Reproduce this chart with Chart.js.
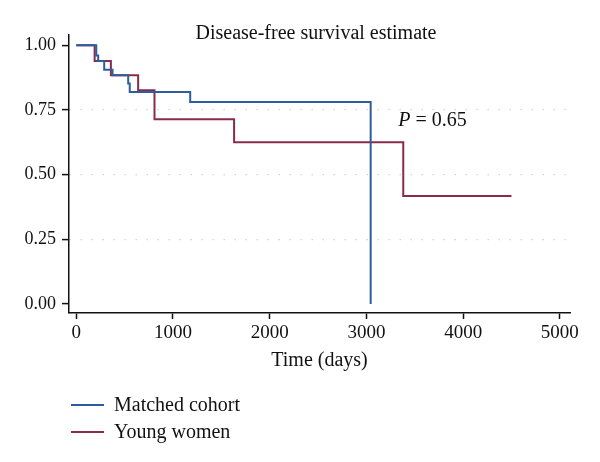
<!DOCTYPE html>
<html>
<head>
<meta charset="utf-8">
<script src="https://cdn.jsdelivr.net/npm/chart.js@4/dist/chart.umd.min.js"></script>
<style>
  html, body { margin: 0; padding: 0; background: #fff; }
  #wrap { position: relative; width: 600px; height: 462px; font-family: "Liberation Serif", "DejaVu Serif", serif; color: #111; }
  #c { position: absolute; left: 0; top: 0; }
  #title { position: absolute; left: 116px; width: 400px; top: 20px; text-align: center; font-size: 20px; line-height: 24px; }
  .leg { position: absolute; left: 71px; font-size: 20px; line-height: 22px; }
  .leg span.sw { display: inline-block; width: 33px; height: 0; border-top: 2px solid; vertical-align: middle; margin-right: 10px; position: relative; top: -1px; }
</style>
</head>
<body>
<div id="wrap">
  <canvas id="c" width="600" height="462"></canvas>
  <div id="title">Disease-free survival estimate</div>
  <div class="leg" style="top:393px"><span class="sw" style="border-color:#2f5d9b"></span>Matched cohort</div>
  <div class="leg" style="top:420px"><span class="sw" style="border-color:#8a2b4c"></span>Young women</div>
</div>
<script>
// Kaplan–Meier step data
const matchedDays = [0, 207, 227, 289, 375, 537, 553, 1178, 3044];
const matchedSurv = [1.000, 0.961, 0.939, 0.906, 0.884, 0.852, 0.820, 0.781, 0.000];
const youngDays = [0, 190, 358, 640, 809, 1632, 3381, 4500];
const youngSurv = [1.000, 0.939, 0.884, 0.826, 0.714, 0.625, 0.417, 0.417];
const xTicks = [0, 1000, 2000, 3000, 4000, 5000];
const yTicks = [0.00, 0.25, 0.50, 0.75, 1.00];
const seriesNames = ["Matched cohort", "Young women"];
const pLabel = { x: 3330, y: 0.71, text: "P", rest: " = 0.65" };

const FONT = '"Liberation Serif", "DejaVu Serif", serif';

const pts = (xs, ys) => xs.map((x, i) => ({ x: x, y: ys[i] }));

const pPlugin = {
  id: 'pLabel',
  afterDatasetsDraw(chart) {
    const ctx = chart.ctx;
    const x = chart.scales.x.getPixelForValue(pLabel.x);
    const y = chart.scales.y.getPixelForValue(pLabel.y);
    ctx.save();
    ctx.fillStyle = '#111';
    ctx.textBaseline = 'middle';
    ctx.textAlign = 'left';
    ctx.font = 'italic 20px ' + FONT;
    ctx.fillText(pLabel.text, x, y);
    const w = ctx.measureText(pLabel.text).width;
    ctx.font = '20px ' + FONT;
    ctx.fillText(pLabel.rest, x + w, y);
    ctx.restore();
  }
};

new Chart(document.getElementById('c'), {
  type: 'line',
  data: {
    datasets: [
      {
        label: seriesNames[0],
        data: pts(matchedDays, matchedSurv),
        borderColor: '#2f5d9b',
        borderWidth: 2,
        stepped: true,
        pointRadius: 0,
        fill: false
      },
      {
        label: seriesNames[1],
        data: pts(youngDays, youngSurv),
        borderColor: '#8a2b4c',
        borderWidth: 2,
        stepped: true,
        pointRadius: 0,
        fill: false
      }
    ]
  },
  options: {
    responsive: false,
    animation: false,
    events: [],
    layout: { padding: { left: 0, top: 35, right: 30, bottom: 86 } },
    plugins: {
      legend: { display: false },
      title: { display: false },
      tooltip: { enabled: false }
    },
    scales: {
      x: {
        type: 'linear',
        min: -75,
        max: 5105,
        afterBuildTicks(s) { s.ticks = xTicks.map(v => ({ value: v })); },
        afterFit(s) { s.height = 63; },
        ticks: { font: { family: FONT, size: 19 }, color: '#111', padding: 3, maxRotation: 0, callback: v => String(v) },
        grid: { drawOnChartArea: false, drawTicks: true, tickLength: 6, tickColor: '#111', tickWidth: 1.5 },
        border: { display: true, color: '#111', width: 1.5 },
        title: { display: true, text: 'Time (days)', font: { family: FONT, size: 20 }, color: '#111', padding: { top: 2, bottom: 3 } }
      },
      y: {
        type: 'linear',
        min: -0.035,
        max: 1.04,
        afterBuildTicks(s) { s.ticks = yTicks.map(v => ({ value: v })); },
        afterFit(s) { s.width = 69; },
        ticks: { font: { family: FONT, size: 18 }, color: '#111', padding: 6, callback: v => Number(v).toFixed(2) },
        grid: {
          drawOnChartArea: true,
          drawTicks: true,
          tickLength: 7,
          tickColor: '#111',
          tickWidth: 1.5,
          lineWidth: 1.2,
          color: c => (c.tick && c.tick.value > 0.01 && c.tick.value < 0.99) ? '#d4d4d4' : 'rgba(0,0,0,0)'
        },
        border: { display: true, color: '#111', width: 1.5, dash: [1.5, 9.5] }
      }
    }
  },
  plugins: [pPlugin]
});
</script>
</body>
</html>
